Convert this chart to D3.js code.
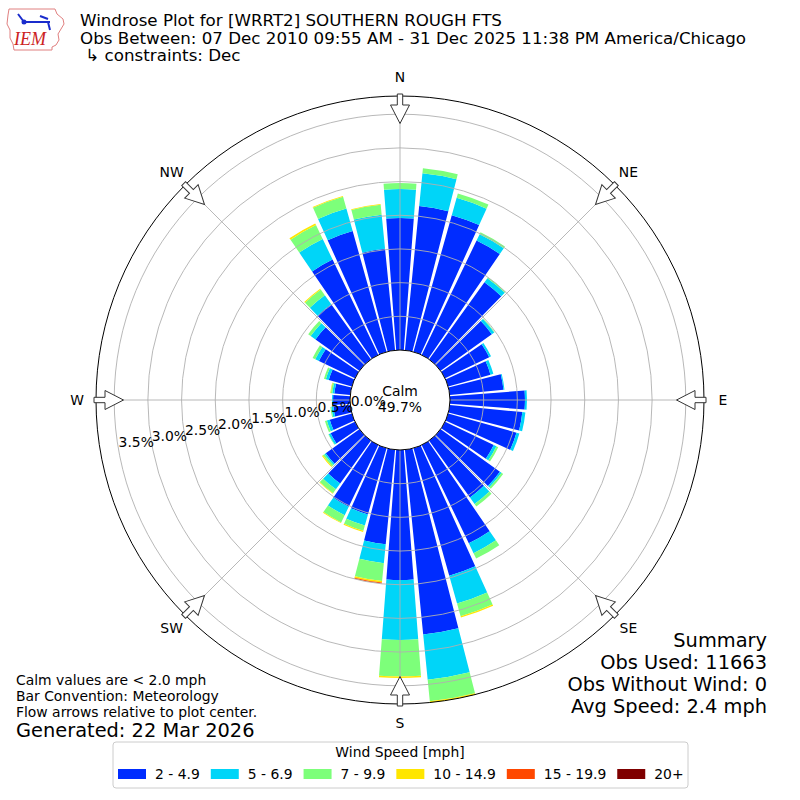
<!DOCTYPE html>
<html>
<head>
<meta charset="utf-8">
<script src="https://cdn.jsdelivr.net/npm/d3@7"></script>
<style>
  body { margin: 0; background: #fff; }
  svg { font-family: "DejaVu Sans", sans-serif; }
</style>
</head>
<body>
<div id="wrapper"></div>
<script>
// wind directions (degrees, meteorological)
const directions = [0, 10, 20, 30, 40, 50, 60, 70, 80, 90, 100, 110, 120, 130, 140, 150, 160, 170,
  180, 190, 200, 210, 220, 230, 240, 250, 260, 270, 280, 290, 300, 310, 320, 330, 340, 350];

const speedBins = ["2 - 4.9", "5 - 6.9", "7 - 9.9", "10 - 14.9", "15 - 19.9", "20+"];
const binColors = ["#002cff", "#00d5f8", "#7dff7a", "#ffe600", "#ff4800", "#7f0000"];

// percent of observations per direction, one array per speed bin
const bin2to5 = [1.958, 2.151, 2.107, 1.884, 1.409, 0.935, 0.727, 0.653, 0.801, 1.113, 1.083, 1.053,
  0.801, 1.083, 1.039, 1.617, 1.967, 2.755, 1.929, 1.409, 1.021, 1.015, 0.782, 0.614,
  0.401, 0.341, 0.252, 0.252, 0.237, 0.356, 0.593, 0.801, 1.009, 1.570, 1.862, 1.513];
const bin5to7 = [0.431, 0.490, 0.267, 0.104, 0.075, 0.044, 0.030, 0.044, 0.015, 0.029, 0.045, 0.045,
  0.045, 0.030, 0.118, 0.163, 0.429, 0.675, 0.890, 0.282, 0.170, 0.139, 0.108, 0.024,
  0.029, 0.045, 0.030, 0.015, 0.030, 0.045, 0.060, 0.089, 0.163, 0.338, 0.346, 0.509];
const bin7to10 = [0.089, 0.074, 0.067, 0.030, 0.015, 0.008, 0, 0, 0, 0, 0, 0,
  0.029, 0.029, 0.045, 0.089, 0.195, 0.321, 0.544, 0.267, 0.082, 0.119, 0.071, 0.030,
  0.008, 0.029, 0.015, 0, 0.022, 0.029, 0.044, 0.045, 0.104, 0.230, 0.181, 0.147];
const bin10to15 = [0, 0, 0, 0, 0, 0, 0, 0, 0, 0, 0, 0,
  0, 0, 0, 0, 0.020, 0.018, 0.020, 0.023, 0.018, 0.010, 0.008, 0.014,
  0, 0, 0, 0, 0.008, 0, 0, 0, 0.015, 0.028, 0.015, 0.012];
const bin15to20 = [0, 0, 0, 0, 0, 0, 0, 0, 0, 0, 0, 0,
  0, 0, 0, 0, 0, 0, 0, 0.015, 0, 0, 0, 0,
  0, 0, 0, 0, 0, 0, 0, 0, 0, 0, 0, 0];
const bin20plus = [0, 0, 0, 0, 0, 0, 0, 0, 0, 0, 0, 0,
  0, 0, 0, 0, 0, 0, 0, 0, 0, 0, 0, 0,
  0, 0, 0, 0, 0, 0, 0, 0, 0, 0, 0, 0];

const radialTicks = [0, 0.5, 1.0, 1.5, 2.0, 2.5, 3.0, 3.5];
const radialTickLabels = ["0.0%", "0.5%", "1.0%", "1.5%", "2.0%", "2.5%", "3.0%", "3.5%"];
const rMax = 3.77;

const compassAngles = [0, 45, 90, 135, 180, 225, 270, 315];
const compassLabels = ["N", "NE", "E", "SE", "S", "SW", "W", "NW"];

const calmPct = "49.7%";
const titleLines = [
  "Windrose Plot for [WRRT2] SOUTHERN ROUGH FTS",
  "Obs Between: 07 Dec 2010 09:55 AM - 31 Dec 2025 11:38 PM America/Chicago",
  " \u21b3 constraints: Dec"
];
const summaryLines = ["Summary", "Obs Used: 11663", "Obs Without Wind: 0", "Avg Speed: 2.4 mph"];
const noteLines = ["Calm values are < 2.0 mph", "Bar Convention: Meteorology", "Flow arrows relative to plot center."];
const generated = "Generated: 22 Mar 2026";

const drawChart = () => {
  const dimensions = { width: 800, height: 800, cx: 400, cy: 400, calmR: 50, outerR: 304 };
  const binSeries = [bin2to5, bin5to7, bin7to10, bin10to15, bin15to20, bin20plus];
  const fs = 13.9; // 10pt at 100 dpi

  const svg = d3.select("#wrapper")
    .append("svg")
    .attr("width", dimensions.width)
    .attr("height", dimensions.height);

  const bounds = svg.append("g")
    .attr("transform", `translate(${dimensions.cx}, ${dimensions.cy})`);

  const rScale = d3.scaleLinear()
    .domain([0, rMax])
    .range([dimensions.calmR, dimensions.outerR]);
  const toRad = (deg) => deg * Math.PI / 180;
  const halfWidth = toRad(4.35);

  // stacked table
  const table = directions.map((dir, i) => {
    const row = { dir };
    speedBins.forEach((b, j) => { row[b] = binSeries[j][i]; });
    return row;
  });
  const stacked = d3.stack().keys(speedBins)(table);

  const arc = d3.arc();
  const barGroups = bounds.append("g").attr("class", "bars")
    .selectAll("g")
    .data(stacked)
    .join("g")
    .attr("fill", (d, i) => binColors[i]);

  barGroups.selectAll("path")
    .data((d) => d.filter((s) => s[1] - s[0] > 0))
    .join("path")
    .attr("d", (s) => arc({
      innerRadius: rScale(s[0]),
      outerRadius: rScale(s[1]),
      startAngle: toRad(s.data.dir) - halfWidth,
      endAngle: toRad(s.data.dir) + halfWidth
    }));

  // grid
  const grid = bounds.append("g").attr("class", "grid")
    .attr("fill", "none").attr("stroke", "#b0b0b0").attr("stroke-width", 0.9);
  grid.selectAll("circle")
    .data(radialTicks.slice(1))
    .join("circle")
    .attr("r", (d) => rScale(d));
  grid.selectAll("line")
    .data(compassAngles)
    .join("line")
    .attr("x1", 0).attr("y1", 0)
    .attr("x2", (d) => dimensions.outerR * Math.sin(toRad(d)))
    .attr("y2", (d) => -dimensions.outerR * Math.cos(toRad(d)));

  bounds.append("circle")
    .attr("r", rScale(rMax))
    .attr("fill", "none").attr("stroke", "#000").attr("stroke-width", 1);

  bounds.append("circle")
    .attr("r", rScale(0))
    .attr("fill", "#fff").attr("stroke", "#000").attr("stroke-width", 1);

  bounds.append("text").attr("x", 0).attr("y", -4)
    .attr("text-anchor", "middle").attr("font-size", fs).text("Calm");
  bounds.append("text").attr("x", 0).attr("y", 12)
    .attr("text-anchor", "middle").attr("font-size", fs).text(calmPct);

  // radial tick labels
  const labelAngle = toRad(260);
  bounds.append("g").selectAll("text")
    .data(radialTicks)
    .join("text")
    .attr("x", (d) => rScale(d) * Math.sin(labelAngle))
    .attr("y", (d) => -rScale(d) * Math.cos(labelAngle) - 3)
    .attr("font-size", fs)
    .text((d, i) => radialTickLabels[i]);

  // compass labels
  bounds.append("g").selectAll("text")
    .data(compassAngles)
    .join("text")
    .attr("x", (d) => 323 * Math.sin(toRad(d)))
    .attr("y", (d) => -323 * Math.cos(toRad(d)) + 5)
    .attr("text-anchor", "middle")
    .attr("font-size", fs)
    .text((d, i) => compassLabels[i]);

  // flow arrows
  const R = dimensions.outerR;
  const arrowPts = [[-2.7, -R - 2], [2.7, -R - 2], [2.7, -R + 9], [9.5, -R + 9],
    [0, -R + 27.5], [-9.5, -R + 9], [-2.7, -R + 9]];
  bounds.append("g").selectAll("path")
    .data(compassAngles)
    .join("path")
    .attr("d", d3.line()(arrowPts) + "Z")
    .attr("transform", (d) => `rotate(${d})`)
    .attr("fill", "#fff").attr("stroke", "#333").attr("stroke-width", 1);

  // title
  svg.append("g").selectAll("text")
    .data(titleLines)
    .join("text")
    .attr("x", 80)
    .attr("y", (d, i) => 26 + i * 17.7)
    .attr("font-size", 16.7)
    .attr("xml:space", "preserve")
    .style("white-space", "pre")
    .text((d) => d);

  // logo
  const logo = svg.append("g");
  logo.append("path")
    .attr("d", "M9,9 L55,9 L57,14 L63,19 L64,24 L61,29 L58,34 L59,40 L56,45 L52,47 L52,50 L14,50 L13,44 L10,38 L10,30 L7,24 L8,15 Z")
    .attr("fill", "none").attr("stroke", "#e08080").attr("stroke-width", 1);
  logo.append("path")
    .attr("d", "M24,22 L50,22 M18,14 L24,22 M40,16 L48,19 M48,22 L50,30")
    .attr("fill", "none").attr("stroke", "#1a2ccc").attr("stroke-width", 2);
  logo.append("circle").attr("cx", 24).attr("cy", 22).attr("r", 2.5).attr("fill", "#1a2ccc");
  logo.append("text")
    .attr("x", 14).attr("y", 45)
    .attr("font-family", "'Liberation Serif', serif")
    .attr("font-style", "italic")
    .attr("font-size", 18)
    .attr("fill", "#cc2222")
    .text("IEM");

  // summary
  svg.append("g").selectAll("text")
    .data(summaryLines)
    .join("text")
    .attr("x", 767)
    .attr("y", (d, i) => 647 + i * 22)
    .attr("text-anchor", "end")
    .attr("font-size", 19.4)
    .text((d) => d);

  // notes
  svg.append("g").selectAll("text")
    .data(noteLines)
    .join("text")
    .attr("x", 16)
    .attr("y", (d, i) => 685 + i * 16.2)
    .attr("font-size", fs)
    .text((d) => d);
  svg.append("text")
    .attr("x", 16).attr("y", 737)
    .attr("font-size", 19.4)
    .text(generated);

  // legend
  const legend = svg.append("g");
  legend.append("rect")
    .attr("x", 113).attr("y", 742).attr("width", 575).attr("height", 46)
    .attr("rx", 3)
    .attr("fill", "#fff").attr("stroke", "#cccccc");
  legend.append("text")
    .attr("x", 400).attr("y", 757)
    .attr("text-anchor", "middle").attr("font-size", fs)
    .text("Wind Speed [mph]");
  let cursor = 118;
  speedBins.forEach((b, i) => {
    legend.append("rect")
      .attr("x", cursor).attr("y", 769).attr("width", 28).attr("height", 10)
      .attr("fill", binColors[i]);
    const t = legend.append("text")
      .attr("x", cursor + 37).attr("y", 779)
      .attr("font-size", fs)
      .text(b);
    cursor += 37 + t.node().getComputedTextLength() + 11;
  });
};

drawChart();
</script>
</body>
</html>
